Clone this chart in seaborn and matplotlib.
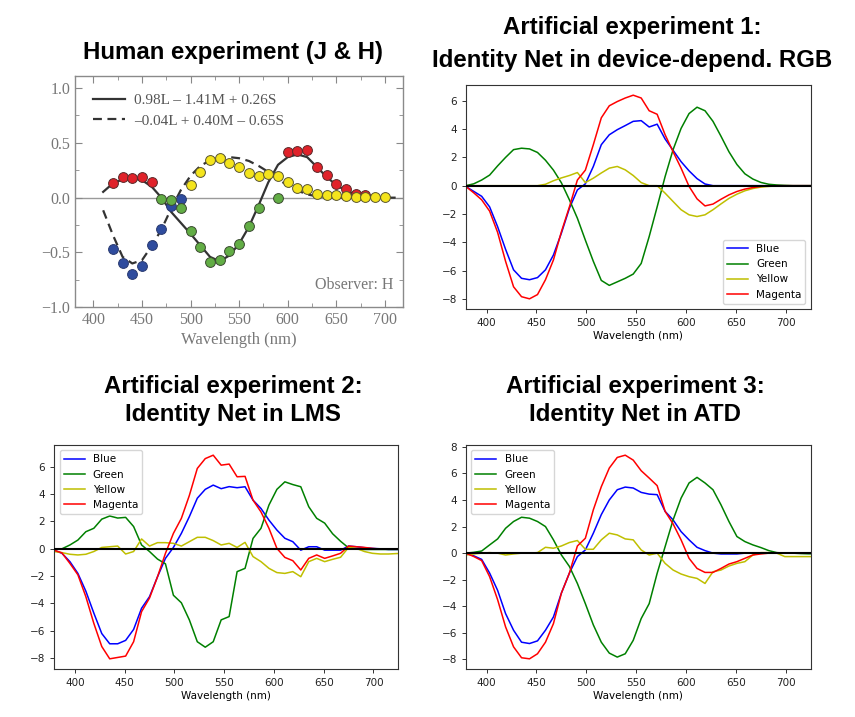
import matplotlib
matplotlib.use("Agg")
import matplotlib.pyplot as plt
import seaborn as sns
import pandas as pd
from matplotlib.ticker import MultipleLocator
from matplotlib.lines import Line2D

# ---------------- data ----------------
wavelengths = [379, 387, 395, 403, 411, 419, 427, 435, 443, 451,
               459, 467, 475, 483, 491, 499, 507, 515, 523, 531,
               539, 547, 555, 563, 571, 579, 587, 595, 603, 611,
               619, 627, 635, 643, 651, 659, 667, 675, 683, 691,
               699, 707, 715, 723, 731]

series_names = ["Blue", "Green", "Yellow", "Magenta"]
series_colors = ["b", "g", "y", "r"]

rgb_blue = [-0.05, -0.4, -0.75, -1.5, -2.9, -4.5, -5.95, -6.55, -6.65, -6.5,
            -5.95, -4.9, -3.35, -1.6, -0.3, 0.13, 1.36, 2.9, 3.6, 3.96,
            4.25, 4.55, 4.6, 4.15, 4.35, 3.3, 2.5, 1.7, 1.05, 0.5,
            0.12, 0.0, 0.0, 0.0, 0.0, 0.0, 0.0, 0.0, 0.0, 0.0,
            0.0, 0.0, 0.0, 0.0, 0.0]
rgb_green = [0.0, 0.13, 0.4, 0.75, 1.4, 2.0, 2.55, 2.65, 2.6, 2.35,
             1.8, 1.1, 0.2, -1.0, -2.3, -3.85, -5.35, -6.7, -7.05, -6.8,
             -6.55, -6.25, -5.5, -3.6, -1.5, 0.65, 2.55, 4.05, 5.1, 5.55,
             5.3, 4.55, 3.5, 2.4, 1.5, 0.84, 0.47, 0.23, 0.1, 0.05,
             0.02, 0.0, 0.0, 0.0, 0.0]
rgb_yellow = [0.0, 0.0, 0.0, 0.0, 0.0, 0.0, 0.0, 0.0, 0.0, 0.0,
              0.1, 0.35, 0.55, 0.72, 0.93, 0.22, 0.53, 0.9, 1.24, 1.36,
              1.12, 0.72, 0.22, 0.0, 0.0, -0.53, -1.12, -1.7, -2.06, -2.18,
              -2.06, -1.7, -1.29, -0.9, -0.6, -0.36, -0.2, -0.1, -0.05, -0.02,
              0.0, 0.0, 0.0, 0.0, 0.0]
rgb_magenta = [-0.05, -0.5, -1.0, -1.8, -3.3, -5.35, -7.15, -7.85, -8.0, -7.7,
               -6.65, -5.25, -3.25, -1.5, 0.4, 1.1, 2.9, 4.8, 5.65, 5.95,
               6.2, 6.4, 6.2, 5.3, 5.05, 3.6, 2.4, 1.24, -0.05, -0.93,
               -1.43, -1.3, -0.96, -0.65, -0.41, -0.24, -0.13, -0.05, -0.02, 0.0,
               0.0, 0.0, 0.0, 0.0, 0.0]

lms_blue = [-0.1, -0.33, -0.94, -1.8, -3.1, -4.7, -6.2, -6.95, -6.95, -6.7,
            -5.9, -4.35, -3.5, -2.05, -0.7, 0.1, 1.13, 2.35, 3.7, 4.35,
            4.66, 4.4, 4.55, 4.47, 4.54, 3.56, 2.95, 2.1, 1.37, 0.77,
            0.52, -0.1, 0.15, 0.15, -0.1, -0.1, -0.1, 0.2, 0.15, 0.08,
            0.03, 0.0, -0.05, -0.05, -0.05]
lms_green = [0.0, 0.0, 0.28, 0.64, 1.25, 1.5, 2.17, 2.4, 2.25, 2.3,
             1.63, 0.28, -0.2, -0.75, -1.1, -3.4, -3.95, -5.2, -6.8, -7.2,
             -6.8, -5.2, -4.96, -1.67, -1.43, 0.76, 1.5, 3.2, 4.35, 4.9,
             4.7, 4.54, 3.08, 2.23, 1.88, 1.1, 0.55, 0.07, -0.03, -0.05,
             -0.05, -0.05, -0.05, -0.05, -0.05]
lms_yellow = [-0.2, -0.28, -0.4, -0.45, -0.4, -0.2, 0.1, 0.15, 0.2, -0.38,
              -0.2, 0.72, 0.2, 0.45, 0.45, 0.4, 0.2, 0.52, 0.84, 0.84,
              0.6, 0.28, 0.4, 0.1, 0.47, -0.57, -0.94, -1.43, -1.74, -1.8,
              -1.67, -2.04, -0.94, -0.7, -0.94, -0.77, -0.62, 0.1, 0.03, -0.2,
              -0.33, -0.38, -0.38, -0.35, -0.33]
lms_magenta = [-0.1, -0.3, -1.07, -1.9, -3.5, -5.45, -7.15, -8.05, -7.95, -7.85,
               -6.8, -4.6, -3.6, -2.05, -0.33, 1.13, 2.23, 3.9, 5.88, 6.6,
               6.85, 6.12, 6.2, 5.27, 5.3, 3.56, 2.7, 1.5, 0.03, -0.63,
               -0.87, -1.55, -0.7, -0.45, -0.7, -0.52, -0.33, 0.2, 0.15, 0.1,
               0.03, -0.02, -0.02, -0.02, -0.02]

atd_blue = [0.0, -0.2, -0.47, -1.5, -2.8, -4.55, -5.8, -6.7, -6.8, -6.6,
            -5.8, -4.8, -3.0, -1.5, -0.26, 0.24, 1.5, 2.9, 4.0, 4.77,
            4.97, 4.9, 4.57, 4.44, 4.4, 3.14, 2.5, 1.62, 1.0, 0.44,
            0.19, 0.0, -0.06, -0.06, -0.06, 0.0, 0.0, 0.0, 0.0, 0.0,
            0.0, 0.0, 0.0, 0.0, 0.0]
atd_green = [0.0, 0.06, 0.16, 0.62, 1.07, 1.87, 2.38, 2.7, 2.63, 2.38,
             2.0, 1.0, -0.14, -1.0, -2.28, -3.8, -5.4, -6.7, -7.52, -7.82,
             -7.57, -6.56, -4.92, -3.8, -1.52, 0.49, 2.5, 4.14, 5.28, 5.7,
             5.28, 4.77, 3.64, 2.38, 1.25, 0.87, 0.62, 0.42, 0.19, 0.04,
             0.0, 0.0, -0.03, -0.05, -0.05]
atd_yellow = [-0.14, -0.06, 0.0, 0.04, 0.0, -0.14, -0.06, 0.0, 0.0, 0.04,
              0.44, 0.37, 0.54, 0.8, 0.95, 0.29, 0.29, 1.0, 1.5, 1.37,
              1.07, 1.0, 0.24, -0.14, 0.0, -0.77, -1.27, -1.57, -1.77, -1.9,
              -2.28, -1.4, -1.27, -0.97, -0.77, -0.64, -0.14, 0.04, 0.04, 0.0,
              -0.26, -0.26, -0.26, -0.26, -0.26]
atd_magenta = [0.0, -0.25, -0.56, -1.77, -3.5, -5.55, -7.05, -7.87, -7.95, -7.57,
               -6.7, -5.3, -3.0, -1.5, 0.54, 1.12, 3.26, 5.0, 6.4, 7.2,
               7.37, 7.0, 6.2, 5.65, 5.08, 3.14, 2.2, 1.0, -0.39, -1.15,
               -1.45, -1.45, -1.15, -0.82, -0.64, -0.39, -0.14, -0.06, 0.0, 0.0,
               0.0, 0.0, 0.0, 0.0, 0.0]

# Human experiment (J & H)
human_red_wl = [420, 430, 440, 450, 460, 600, 610, 620, 630, 640, 650, 660, 670, 680]
human_red = [0.136, 0.185, 0.176, 0.185, 0.145, 0.42, 0.43, 0.435, 0.276, 0.206,
             0.124, 0.075, 0.038, 0.023]
human_blue_wl = [420, 430, 440, 450, 460, 470, 480, 490]
human_blue = [-0.47, -0.60, -0.695, -0.62, -0.435, -0.29, -0.078, -0.008]
human_green_wl = [470, 480, 490, 500, 510, 520, 530, 540, 550, 560, 570, 590]
human_green = [-0.008, -0.02, -0.09, -0.307, -0.45, -0.59, -0.566, -0.49, -0.426,
               -0.26, -0.09, 0.0]
human_yellow_wl = [500, 510, 520, 530, 540, 550, 560, 570, 580, 590, 600,
                   610, 620, 630, 640, 650, 660, 670, 680, 690, 700]
human_yellow = [0.12, 0.237, 0.343, 0.36, 0.32, 0.28, 0.227, 0.197, 0.22, 0.2,
                0.14, 0.084, 0.075, 0.038, 0.023, 0.02, 0.015, 0.01, 0.008,
                0.005, 0.003]
fit_wl = [410, 420, 430, 440, 450, 460, 470, 480, 490, 500, 510, 520, 530,
          540, 550, 560, 570, 580, 590, 600, 610, 620, 630, 640, 650, 660,
          670, 680, 690, 700, 710]
fit_solid = [0.053, 0.13, 0.166, 0.176, 0.16, 0.1, 0.0, -0.13, -0.23, -0.33,
             -0.435, -0.54, -0.58, -0.527, -0.42, -0.267, -0.07, 0.14, 0.3,
             0.37, 0.395, 0.37, 0.28, 0.19, 0.115, 0.063, 0.032, 0.014, 0.005,
             0.0, 0.0]
fit_dashed = [-0.115, -0.34, -0.54, -0.6, -0.57, -0.44, -0.29, -0.1, 0.07, 0.2,
              0.29, 0.34, 0.365, 0.37, 0.36, 0.335, 0.29, 0.235, 0.17, 0.11,
              0.065, 0.03, 0.012, 0.004, 0.0, 0.0, 0.0, 0.0, 0.0, 0.0, 0.0]
fit_labels = ["0.98L \u2013 1.41M + 0.26S", "\u20130.04L + 0.40M \u2013 0.65S"]

titles = {
    "human": ["Human experiment (J & H)"],
    "rgb": ["Artificial experiment 1:", "Identity Net in device-depend. RGB"],
    "lms": ["Artificial experiment 2:", "Identity Net in LMS"],
    "atd": ["Artificial experiment 3:", "Identity Net in ATD"],
}

# ---------------- figure ----------------
W, H = 855, 717
fig = plt.figure(figsize=(W / 100, H / 100), dpi=100)
fig.patch.set_facecolor("white")


def axes_px(left, top, right, bottom):
    return fig.add_axes([left / W, 1 - bottom / H, (right - left) / W, (bottom - top) / H])


title_font = dict(family=["Liberation Sans", "DejaVu Sans"], fontsize=17.3, fontweight="bold",
                  ha="center", va="baseline", color="black")

# ---- panel 1 : human experiment ----
ax1 = axes_px(75, 76, 403.3, 307.3)
serif = ["Liberation Serif", "DejaVu Serif"]
gray = "#777777"
ax1.axhline(0, color="#9a9a9a", lw=1.0, zorder=1)
sns.lineplot(x=fit_wl, y=fit_solid, ax=ax1, color="#333333", lw=1.6, zorder=2)
sns.lineplot(x=fit_wl, y=fit_dashed, ax=ax1, color="#333333", lw=1.6, zorder=2,
             linestyle=(0, (4, 2.5)))
dot_kw = dict(s=50, linewidth=0.7, zorder=4, ax=ax1, legend=False)
sns.scatterplot(x=human_red_wl, y=human_red, color="#e0222a", edgecolor="#5a2a2a", **dot_kw)
sns.scatterplot(x=human_blue_wl, y=human_blue, color="#2f4c9e", edgecolor="#2a3a70", **dot_kw)
sns.scatterplot(x=human_green_wl, y=human_green, color="#62ad45", edgecolor="#3a4a30", **dot_kw)
sns.scatterplot(x=human_yellow_wl, y=human_yellow, color="#f4e41c", edgecolor="#5a5530", **dot_kw)
ax1.set_xlim(381, 719)
ax1.set_ylim(-1.0, 1.11)
ax1.xaxis.set_major_locator(MultipleLocator(50))
ax1.xaxis.set_minor_locator(MultipleLocator(25))
ax1.yaxis.set_major_locator(MultipleLocator(0.5))
ax1.yaxis.set_minor_locator(MultipleLocator(0.25))
ax1.tick_params(which="both", direction="in", top=True, right=True, color="#888888",
                labelcolor=gray, labelsize=11.5)
ax1.tick_params(which="major", length=5)
ax1.tick_params(which="minor", length=3)
for lab in ax1.get_xticklabels() + ax1.get_yticklabels():
    lab.set_family(serif)
for sp in ax1.spines.values():
    sp.set_color("#8a8a8a")
    sp.set_linewidth(1.0)
ax1.set_xlabel("Wavelength (nm)", family=serif, fontsize=12, color=gray, labelpad=3)
ax1.set_ylabel("")
handles = [Line2D([], [], color="#333333", lw=1.6),
           Line2D([], [], color="#333333", lw=1.6, linestyle=(0, (4, 2.5)))]
leg = ax1.legend(handles, fit_labels, loc="upper left", frameon=False,
                 prop=dict(family=serif, size=11), handlelength=2.1,
                 borderaxespad=0.75, labelspacing=0.45, handletextpad=0.6)
for t in leg.get_texts():
    t.set_color("#555555")
ax1.text(0.97, 0.095, "Observer: H", transform=ax1.transAxes, ha="right", va="center",
         family=serif, fontsize=11.5, color=gray)
fig.text(233 / W, 1 - 59 / H, titles["human"][0], **title_font)


# ---- artificial panels ----
def artificial(ax, blue, green, yellow, magenta, legloc):
    for name, col, vals in zip(series_names, series_colors, [blue, green, yellow, magenta]):
        df = pd.DataFrame({"wl": wavelengths, "v": vals})
        sns.lineplot(data=df, x="wl", y="v", ax=ax, color=col, lw=1.1, label=name)
    ax.axhline(0, color="black", lw=1.5, zorder=3)
    ax.set_xlim(379.3, 725)
    ax.xaxis.set_major_locator(MultipleLocator(50))
    ax.yaxis.set_major_locator(MultipleLocator(2))
    ax.tick_params(labelsize=7.5, length=3, width=0.7, color="#333333", labelcolor="#222222")
    for sp in ax.spines.values():
        sp.set_color("#333333")
        sp.set_linewidth(0.8)
    ax.set_xlabel("Wavelength (nm)", fontsize=7.5, labelpad=2)
    ax.set_ylabel("")
    ax.legend(loc=legloc, fontsize=7.5, framealpha=0.8, edgecolor="#cccccc",
              borderaxespad=0.5, handlelength=2.0)


ax2 = axes_px(466, 85, 810.7, 309)
artificial(ax2, rgb_blue, rgb_green, rgb_yellow, rgb_magenta, "lower right")
ax3 = axes_px(54.3, 445, 398.3, 669)
artificial(ax3, lms_blue, lms_green, lms_yellow, lms_magenta, "upper left")
ax4 = axes_px(466, 445, 810.7, 669)
artificial(ax4, atd_blue, atd_green, atd_yellow, atd_magenta, "upper left")

fig.text(632 / W, 1 - 34 / H, titles["rgb"][0], **title_font)
fig.text(632 / W, 1 - 67 / H, titles["rgb"][1], **title_font)
fig.text(233 / W, 1 - 393 / H, titles["lms"][0], **title_font)
fig.text(233 / W, 1 - 421 / H, titles["lms"][1], **title_font)
fig.text(635 / W, 1 - 393 / H, titles["atd"][0], **title_font)
fig.text(635 / W, 1 - 421 / H, titles["atd"][1], **title_font)

fig.savefig("out.png", dpi=100, facecolor="white")
